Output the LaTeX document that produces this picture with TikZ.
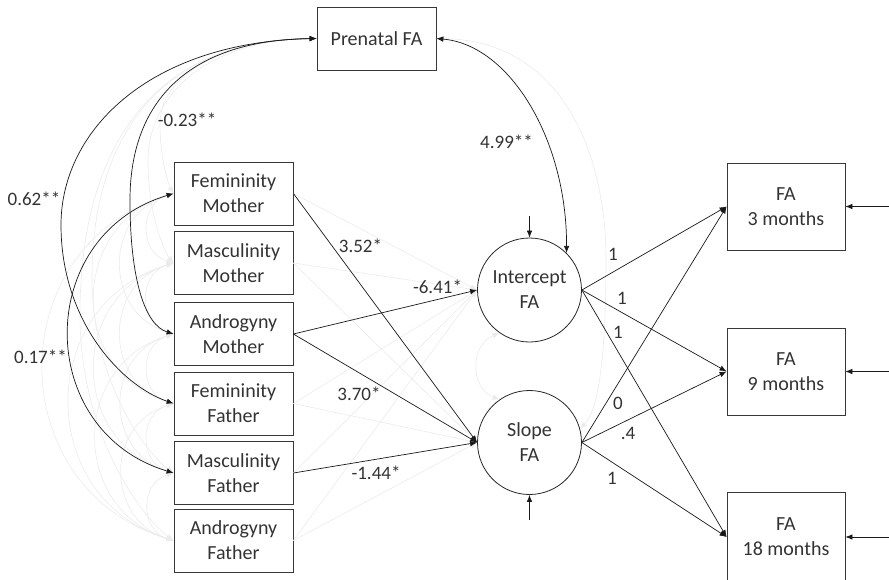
\documentclass[tikz,border=0pt]{standalone}
\usepackage{fontspec}
\setmainfont{Carlito}
\usetikzlibrary{arrows.meta,calc}
\begin{document}
\begin{tikzpicture}[x=1pt,y=-1pt,
  box/.style={draw=black!78, line width=0.8pt, minimum width=119pt, minimum height=63pt, inner sep=0pt, align=center, text=black!80, font=\fontsize{20}{25}\selectfont},
  fabox/.style={box, minimum height=87pt, minimum width=118pt},
  lat/.style={draw=black!85, line width=0.8pt, circle, minimum size=104pt, inner sep=0pt, align=center, text=black!80, font=\fontsize{20}{25}\selectfont},
  reg/.style={draw=black!90, line width=0.7pt, -{Latex[length=7pt,width=5.5pt]}},
  cov/.style={draw=black!90, line width=0.7pt, {Latex[length=7pt,width=5.5pt]}-{Latex[length=7pt,width=5.5pt]}},
  faint/.style={draw=black!8, line width=0.6pt, -{Latex[length=7pt,width=5.5pt]}},
  fcov/.style={draw=black!8, line width=0.6pt, {Latex[length=7pt,width=5.5pt]}-{Latex[length=7pt,width=5.5pt]}},
  lbl/.style={text=black!80, font=\fontsize{19}{23}\selectfont, inner sep=0pt}
]
\useasboundingbox (0,0) rectangle (889,579);

% nodes
\node[box] (pre) at (376.5,38.5) {Prenatal FA};
\node[box] (fm) at (233.5,193.5) {Femininity\\Mother};
\node[box] (mm) at (233.5,263) {Masculinity\\Mother};
\node[box] (am) at (233.5,334) {Androgyny\\Mother};
\node[box] (ff) at (233.5,403.5) {Femininity\\Father};
\node[box] (mf) at (233.5,473) {Masculinity\\Father};
\node[box] (af) at (233.5,540.5) {Androgyny\\Father};
\node[lat] (int) at (529.5,290) {Intercept\\FA};
\node[lat] (slp) at (529.5,442.5) {Slope\\FA};
\node[fabox] (t3) at (786,206.5) {FA\\3 months};
\node[fabox] (t9) at (786,371.5) {FA\\9 months};
\node[fabox, minimum height=89pt] (t18) at (786,537) {FA\\18 months};

% faint (non-significant) paths
\foreach \b/\X/\Y in {fm/160/193.5, mm/148/263, mf/92/473, af/80/540.5}
  \draw[fcov] (pre.west) .. controls ({\X+60},40) and (\X,{38+0.25*(\Y-38)}) .. (\X,{38+0.55*(\Y-38)})
     .. controls (\X,{38+0.8*(\Y-38)}) and ({174-0.3*(174-\X)},{\Y-0.04*(\Y-38)}) .. (\b.west);
\foreach \a/\b/\d in {fm/mm/69.5, fm/am/140.5, fm/ff/210, fm/af/347, mm/am/71, mm/ff/140.5, mm/mf/210, mm/af/277.5, am/ff/69.5, am/mf/139, am/af/206.5, ff/mf/69.5, ff/af/137, mf/af/67.5}
  \draw[fcov] (\a.west) .. controls ($(\a.west)+({-0.5*\d},{0.15*\d})$) and ($(\b.west)+({-0.5*\d},{-0.15*\d})$) .. (\b.west);
\foreach \a/\t in {fm/int, mm/int, mm/slp, ff/int, ff/slp, mf/int, af/int, af/slp}
  \draw[faint] (\a.east) -- (\t.west);
\draw[fcov] (int.235) .. controls (470,345) and (470,388) .. (slp.125);
\draw[fcov] (pre.east) .. controls (560,40) and (606,150) .. (606,260) .. controls (606,360) and (598,410) .. (slp.15);

% significant covariances
\draw[cov] (pre.west) .. controls (150,42) and (61,130) .. (61,225) .. controls (61,320) and (120,385) .. (ff.west);
\draw[cov] (pre.west) .. controls (190,40) and (130,100) .. (130,200) .. controls (130,280) and (145,325) .. (am.west);
\draw[cov] (fm.west) .. controls ($(fm.west)+(-139.75,41.9)$) and ($(mf.west)+(-139.75,-41.9)$) .. (mf.west);
\draw[cov] (pre.east) .. controls (510,45) and (567,140) .. (int.45);

% regressions
\draw[reg] (fm.east) -- (slp.west);
\draw[reg] (am.east) -- (int.west);
\draw[reg] (am.east) -- (slp.west);
\draw[reg] (mf.east) -- (slp.west);

% loadings
\draw[reg] (int.east) -- (t3.west);
\draw[reg] (int.east) -- (t9.west);
\draw[reg] (int.east) -- (t18.west);
\draw[reg] (slp.east) -- (t3.west);
\draw[reg] (slp.east) -- (t9.west);
\draw[reg] (slp.east) -- (t18.west);

% disturbances / errors
\coordinate (di) at (529.5,216);
\coordinate (ds) at (529.5,520);
\draw[reg] (di) -- (int.north);
\draw[reg] (ds) -- (slp.south);
\coordinate (e3) at (889,206.5);
\coordinate (e9) at (889,371.5);
\coordinate (e18) at (889,537);
\draw[reg] (e3) -- (t3.east);
\draw[reg] (e9) -- (t9.east);
\draw[reg] (e18) -- (t18.east);

% labels
\node[lbl] (l062) at (34,199) {0.62**};
\node[lbl] (l023) at (187,120) {-0.23**};
\node[lbl] (l017) at (40.5,357) {0.17**};
\node[lbl] (l499) at (506.5,142) {4.99**};
\node[lbl] (l352) at (360.5,246) {3.52*};
\node[lbl] (l641) at (437.5,287) {-6.41*};
\node[lbl] (l370) at (359,394) {3.70*};
\node[lbl] (l144) at (376,473) {-1.44*};
\node[lbl] (la) at (613,254) {1};
\node[lbl] (lb) at (622,298) {1};
\node[lbl] (lc) at (618,332) {1};
\node[lbl] (ld) at (618,403) {0};
\node[lbl] (le) at (628,433) {.4};
\node[lbl] (lf) at (612,478) {1};
\end{tikzpicture}
\end{document}
